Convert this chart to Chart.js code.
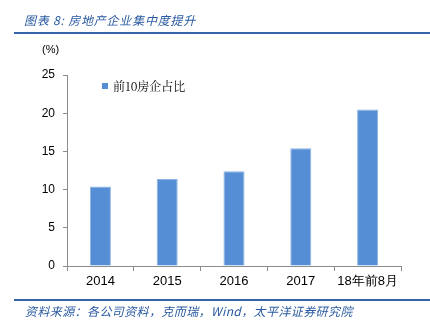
<!DOCTYPE html>
<html>
<head>
<meta charset="utf-8">
<script src="https://cdn.jsdelivr.net/npm/chart.js@4/dist/chart.umd.min.js"></script>
<style>
  html, body { margin: 0; padding: 0; background: #fff; }
  #wrap { position: relative; width: 430px; height: 331px; overflow: hidden; }
  #chart { position: absolute; left: 0; top: 0; }
  .title { position: absolute; left: 24px; top: 11px; font: italic 12px "Noto Sans CJK SC", sans-serif; color: #2a5aa0; letter-spacing: 0.8px; white-space: nowrap; }
  .rule { position: absolute; left: 14px; right: 0; height: 2px; background: #3563a8; }
  .source { position: absolute; left: 25px; top: 302px; font: italic 12px "Noto Sans CJK SC", sans-serif; color: #2a5aa0; letter-spacing: 0.4px; white-space: nowrap; }
  .unit { position: absolute; left: 42px; top: 43px; font: 11px "Liberation Sans", Arial, sans-serif; color: #000; }
  .legend { position: absolute; left: 102px; top: 77px; font: 12px "Noto Serif CJK SC", "Noto Sans CJK SC", serif; color: #000; white-space: nowrap; }
  .legend i { display: inline-block; width: 6px; height: 6px; background: #558ed5; margin-right: 5px; vertical-align: 2px; }
</style>
</head>
<body>
<div id="wrap">
  <canvas id="chart" width="430" height="331"></canvas>
  <div class="title">图表 8: 房地产企业集中度提升</div>
  <div class="rule" style="top:32px"></div>
  <div class="unit">(%)</div>
  <div class="legend" id="legend"></div>
  <div class="rule" style="top:299px"></div>
  <div class="source">资料来源：各公司资料，克而瑞，Wind，太平洋证券研究院</div>
</div>
<script>
// Share of sales held by the top-10 developers (%)
const categories = ['2014', '2015', '2016', '2017', '18年前8月'];
const top10Share = [10.4, 11.4, 12.4, 15.4, 20.5];
const seriesLabel = '前10房企占比';
const yTicks = [0, 5, 10, 15, 20, 25];

document.getElementById('legend').innerHTML = '<i></i>' + seriesLabel;

new Chart(document.getElementById('chart'), {
  type: 'bar',
  data: {
    labels: categories,
    datasets: [{
      label: seriesLabel,
      data: top10Share,
      backgroundColor: '#558ed5',
      borderColor: '#8db4e2',
      borderWidth: { top: 1, left: 1, right: 1, bottom: 0 },
      barPercentage: 0.63,
      categoryPercentage: 0.5
    }]
  },
  options: {
    responsive: false,
    animation: false,
    devicePixelRatio: 1,
    layout: { padding: { left: 0, right: 29, top: 75, bottom: 0 } },
    plugins: { legend: { display: false }, tooltip: { enabled: false } },
    scales: {
      x: {
        offset: true,
        grid: { offset: true, drawOnChartArea: false, drawTicks: true, tickLength: 5, color: '#8c8c8c' },
        border: { color: '#8c8c8c', width: 1 },
        ticks: { color: '#000', font: { family: '"Liberation Sans", Arial, sans-serif', size: 13 }, padding: 3 },
        afterFit(scale) { scale.height = 65; }
      },
      y: {
        min: 0,
        max: 25,
        afterBuildTicks(scale) { scale.ticks = yTicks.map(v => ({ value: v })); },
        grid: { drawOnChartArea: false, drawTicks: true, tickLength: 4, color: '#8c8c8c' },
        border: { color: '#8c8c8c', width: 1 },
        ticks: { color: '#000', font: { family: '"Liberation Sans", Arial, sans-serif', size: 12 }, padding: 8 },
        afterFit(scale) { scale.width = 67; }
      }
    }
  }
});
</script>
</body>
</html>
